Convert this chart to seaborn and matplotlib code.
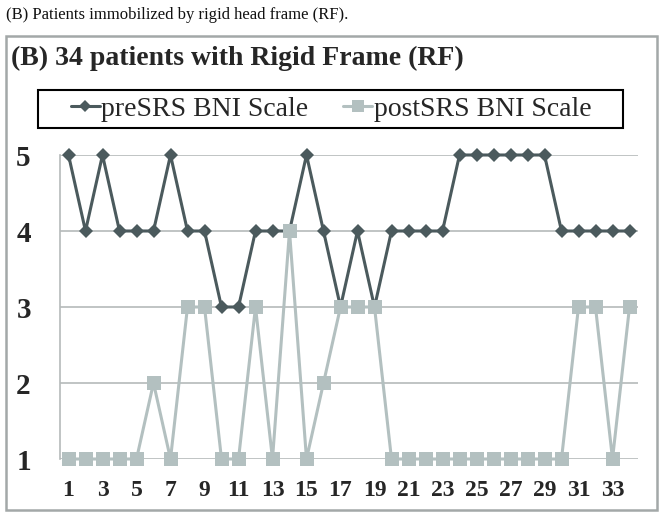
import matplotlib
matplotlib.use("Agg")
import matplotlib.pyplot as plt
import seaborn as sns
import pandas as pd
from matplotlib.patches import Rectangle

patients = list(range(1, 35))
pre_srs = [5, 4, 5, 4, 4, 4, 5, 4, 4, 3, 3, 4, 4, 4, 5, 4, 3, 4, 3, 4,
           4, 4, 4, 5, 5, 5, 5, 5, 5, 4, 4, 4, 4, 4]
post_srs = [1, 1, 1, 1, 1, 2, 1, 3, 3, 1, 1, 3, 1, 4, 1, 2, 3, 3, 3, 1,
            1, 1, 1, 1, 1, 1, 1, 1, 1, 1, 3, 3, 1, 3]
series_names = ["preSRS BNI Scale", "postSRS BNI Scale"]
y_ticks = [1, 2, 3, 4, 5]
x_ticks = list(range(1, 35, 2))

df = pd.DataFrame({
    "patient": patients * 2,
    "score": pre_srs + post_srs,
    "series": [series_names[0]] * len(patients) + [series_names[1]] * len(patients),
})

sns.set_style("white")
plt.rcParams["font.family"] = ["Liberation Serif", "DejaVu Serif"]

DARK = "#4b5a5d"
LIGHT = "#b3c0c0"
GRID = "#b5baba"

fig = plt.figure(figsize=(6.6, 5.18), dpi=100)
W, H = 660, 518

# outer frame of the chart
fig.patches.append(Rectangle((6 / W, 1 - 510 / H), 651 / W, 474 / H,
                             transform=fig.transFigure, fill=False,
                             edgecolor="#a3a8a8", lw=1.8))
# black box round the legend
fig.patches.append(Rectangle((38 / W, 1 - 128 / H), 585 / W, 38 / H,
                             transform=fig.transFigure, fill=False,
                             edgecolor="black", lw=1.5))

fig.text(6 / W, 1 - 15 / H, "(B) Patients immobilized by rigid head frame (RF).",
         fontsize=12, ha="left", va="center", color="#111111")
fig.text(11 / W, 1 - 58 / H, "(B) 34 patients with Rigid Frame (RF)",
         fontsize=20, fontweight="bold", ha="left", va="center")

ax = fig.add_axes([60 / W, 1 - 459 / H, 578 / W, 304 / H])
sns.lineplot(data=df, x="patient", y="score", hue="series", style="series",
             palette={series_names[0]: DARK, series_names[1]: LIGHT},
             markers={series_names[0]: "D", series_names[1]: "s"},
             dashes=False, linewidth=2.2, markeredgewidth=0,
             ax=ax, legend=False)
for line, ms in zip(ax.lines, [7, 10]):
    line.set_markersize(ms)
    line.set_clip_on(False)
# the light series sits on top where the two meet
ax.lines[0].set_zorder(3)
ax.lines[1].set_zorder(4)

ax.set_xlim(0.5, 34.5)
ax.set_ylim(1, 5)
ax.set_yticks(y_ticks)
ax.set_xticks(x_ticks)
ax.set_yticklabels([str(t) for t in y_ticks], fontsize=21, fontweight="bold")
ax.set_xticklabels([str(t) for t in x_ticks], fontsize=17, fontweight="bold")
ax.tick_params(axis="y", length=0, pad=21)
ax.tick_params(axis="x", length=0, pad=15)
ax.set_xlabel("")
ax.set_ylabel("")
ax.grid(axis="y", color=GRID, lw=1.2)
ax.set_axisbelow(True)
for side in ["top", "right", "bottom"]:
    ax.spines[side].set_visible(False)
ax.spines["left"].set_color(GRID)
ax.spines["left"].set_linewidth(1.2)

handles = [plt.Line2D([], [], color=DARK, marker="D", markersize=6, lw=2.2, markeredgewidth=0),
           plt.Line2D([], [], color=LIGHT, marker="s", markersize=8, lw=2.2, markeredgewidth=0)]
fig.legend(handles, series_names, loc="center",
           bbox_to_anchor=(331 / W, 1 - 109 / H), ncol=2,
           fontsize=20, frameon=False,
           handlelength=1.05, handletextpad=0.05, columnspacing=1.25,
           borderpad=0.0)

fig.savefig("out.png", dpi=100)
